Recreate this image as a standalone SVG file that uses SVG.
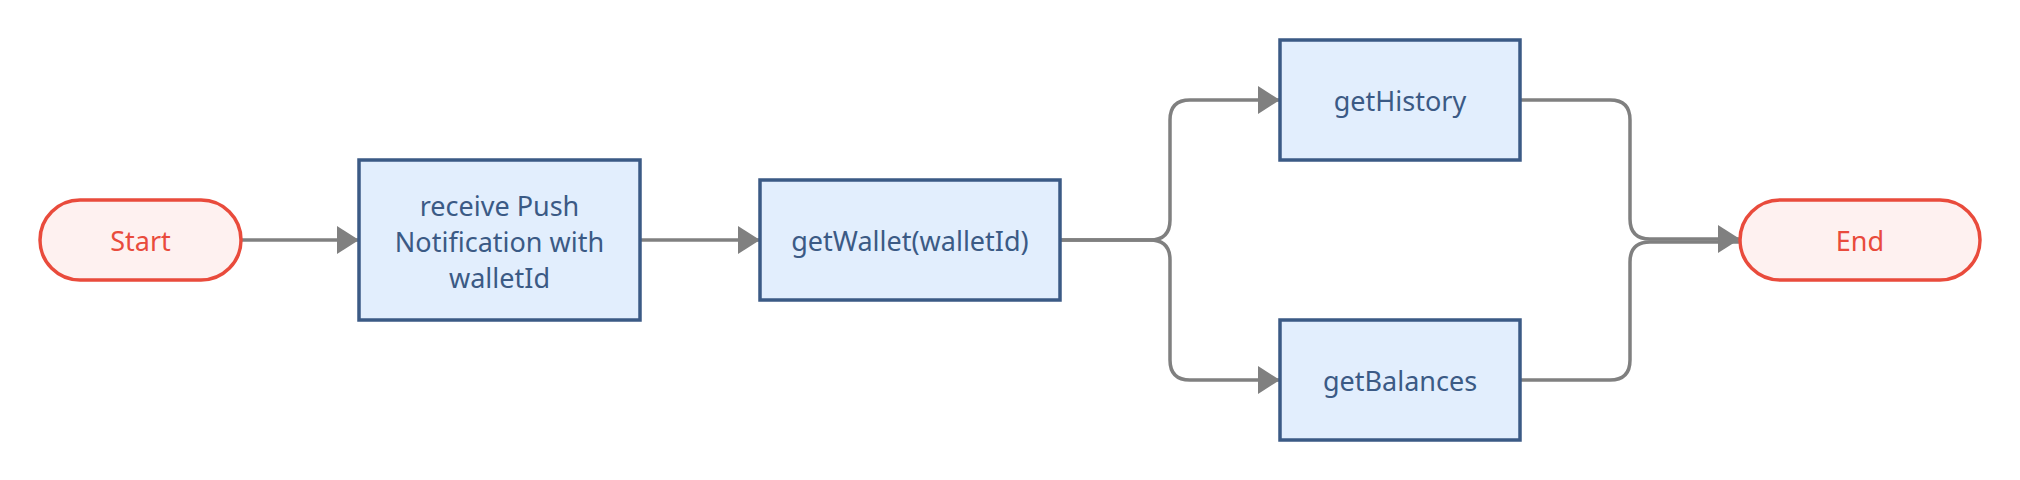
<svg xmlns="http://www.w3.org/2000/svg" width="2020" height="480" viewBox="0 0 2020 480">
<style>
.term{fill:#FEF1F0;stroke:#E94B3C;stroke-width:3.5}
.termt{fill:#E94B3C;font-family:"Noto Sans","Open Sans",sans-serif;font-size:27px;text-anchor:middle;dominant-baseline:central}
.proc{fill:#E2EEFD;stroke:#3B5A85;stroke-width:3.5}
.proct{fill:#3B5A85;font-family:"Noto Sans","Open Sans",sans-serif;font-size:27px;text-anchor:middle;dominant-baseline:central}
.edge{fill:none;stroke:#808080;stroke-width:3.5}
</style>
<defs>
<marker id="arrow" viewBox="0 0 22 28" refX="22" refY="14" markerWidth="22" markerHeight="28" markerUnits="userSpaceOnUse" orient="auto">
<path d="M0,0 L22,14 L0,28 Z" fill="#808080"/>
</marker>
</defs>
<rect width="2020" height="480" fill="#ffffff"/>
<g id="connectors">
<path class="edge" d="M241,240 H359" marker-end="url(#arrow)"/>
<path class="edge" d="M640,240 H760" marker-end="url(#arrow)"/>
<path class="edge" d="M1060,240 H1150 Q1170,240 1170,220 V120 Q1170,100 1190,100 H1280" marker-end="url(#arrow)"/>
<path class="edge" d="M1060,240 H1150 Q1170,240 1170,260 V360 Q1170,380 1190,380 H1280" marker-end="url(#arrow)"/>
<path class="edge" d="M1520,100 H1610 Q1630,100 1630,120 V219 Q1630,239 1650,239 H1740" marker-end="url(#arrow)"/>
<path class="edge" d="M1520,380 H1610 Q1630,380 1630,360 V262 Q1630,242 1650,242 H1740"/>
</g>
<g id="start">
<rect class="term" x="40" y="200" width="201" height="80" rx="40" ry="40"/>
<text class="termt" x="140.5" y="240">Start</text>
</g>
<g id="receive">
<rect class="proc" x="359" y="160" width="281" height="160"/>
<text class="proct" x="499.5" y="205">receive Push</text>
<text class="proct" x="499.5" y="241">Notification with</text>
<text class="proct" x="499.5" y="277">walletId</text>
</g>
<g id="getWallet">
<rect class="proc" x="760" y="180" width="300" height="120"/>
<text class="proct" x="910" y="240">getWallet(walletId)</text>
</g>
<g id="getHistory">
<rect class="proc" x="1280" y="40" width="240" height="120"/>
<text class="proct" x="1400" y="100">getHistory</text>
</g>
<g id="getBalances">
<rect class="proc" x="1280" y="320" width="240" height="120"/>
<text class="proct" x="1400" y="380">getBalances</text>
</g>
<g id="end">
<rect class="term" x="1740" y="200" width="240" height="80" rx="40" ry="40"/>
<text class="termt" x="1860" y="240">End</text>
</g>
</svg>
